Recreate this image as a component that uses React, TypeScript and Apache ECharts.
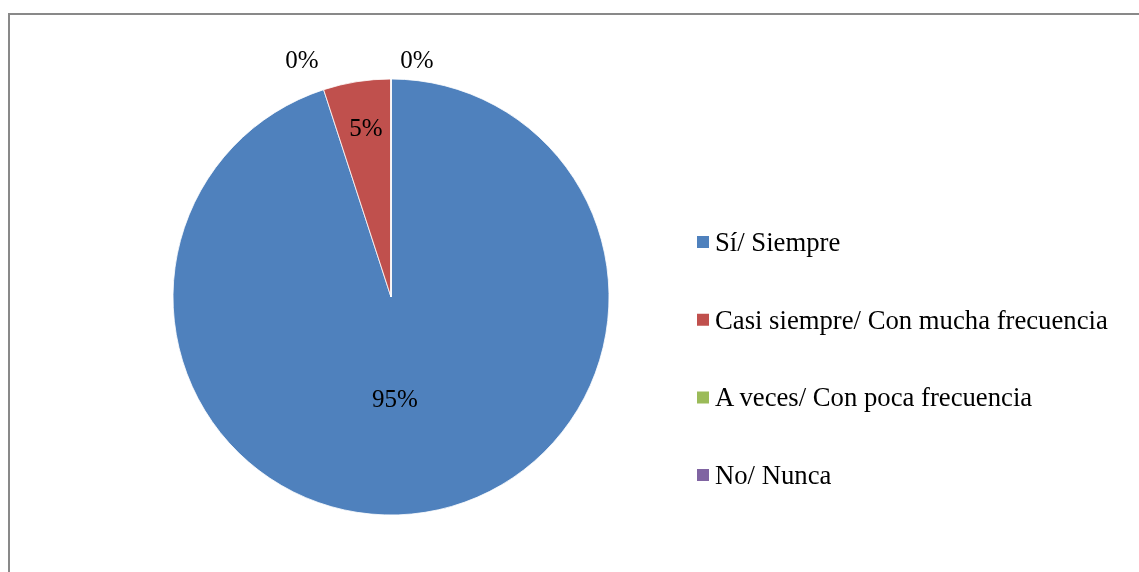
import React, { useEffect, useRef } from "react";
import * as echarts from "echarts";

const categories = [
  "Sí/ Siempre",
  "Casi siempre/ Con mucha frecuencia",
  "A veces/ Con poca frecuencia",
  "No/ Nunca",
];
const values = [95, 5, 0, 0];
const colors = ["#4F81BD", "#C0504D", "#9BBB59", "#8064A2"];
const labelPositions = [
  [395, 398],
  [366, 127],
  [302, 59],
  [417, 59],
];

export default function App() {
  const ref = useRef<HTMLDivElement>(null);
  useEffect(() => {
    if (!ref.current) return;
    const chart = echarts.init(ref.current, undefined, { renderer: "svg" });
    chart.setOption({
      animation: false,
      legend: {
        orient: "vertical",
        left: 695,
        top: 228.5,
        padding: 0,
        icon: "rect",
        itemWidth: 14,
        itemHeight: 14,
        itemGap: 50.7,
        textStyle: {
          fontFamily: "Liberation Serif",
          fontSize: 26.7,
          color: "#000",
          lineHeight: 27,
        },
        data: categories,
      },
      series: [
        {
          type: "pie",
          center: [391, 297],
          radius: 218,
          startAngle: 90,
          clockwise: true,
          avoidLabelOverlap: false,
          itemStyle: { borderColor: "#ffffff", borderWidth: 0.8 },
          label: {
            show: true,
            position: "inside",
            formatter: "{d}%",
            fontFamily: "Liberation Serif",
            fontSize: 25,
            color: "#000",
          },
          labelLine: { show: false },
          labelLayout: (params: any) => {
            const p = labelPositions[params.dataIndex];
            return { x: p[0], y: p[1], align: "center", verticalAlign: "middle" };
          },
          data: categories.map((name, i) => ({
            name,
            value: values[i],
            itemStyle: { color: colors[i] },
          })),
        },
      ],
    });
    return () => chart.dispose();
  }, []);
  return (
    <>
      <div
        ref={ref}
        style={{ position: "fixed", left: 0, top: 0, width: 1139, height: 572 }}
      />
      <div
        style={{
          position: "fixed",
          left: 8,
          top: 13,
          width: 1300,
          height: 800,
          border: "2px solid #898989",
          boxSizing: "border-box",
          pointerEvents: "none",
        }}
      />
    </>
  );
}
